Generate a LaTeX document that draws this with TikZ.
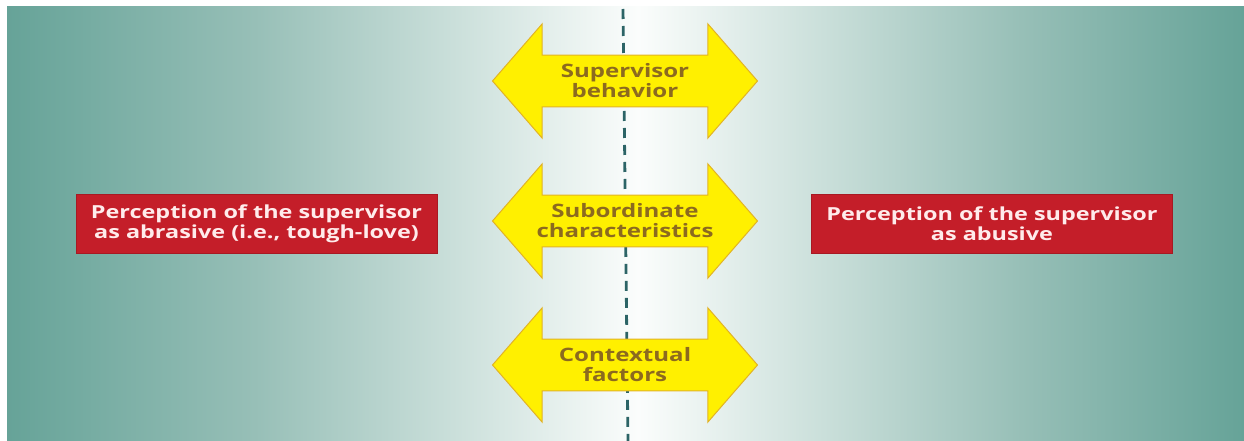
\documentclass[tikz,border=0pt]{standalone}
\usepackage{fontspec}
\setmainfont[FakeStretch=1.3]{Open Sans}
\usetikzlibrary{ shapes.arrows, % For the two-headed arrows
                 positioning,   % For easy node-relative placements
               }
\definecolor{tealedge}{HTML}{66A398}
\definecolor{tealmid}{HTML}{97BFB7}
\definecolor{tealpale}{HTML}{CADFDA}
\definecolor{centrewhite}{HTML}{FBFDFC}
\definecolor{arrowfill}{HTML}{FFF000}
\definecolor{arrowline}{HTML}{E2B325}
\definecolor{arrowtext}{HTML}{8C6A1F}
\definecolor{boxred}{HTML}{C41E29}
\definecolor{dashteal}{HTML}{2C6466}
\pgfdeclarehorizontalshading{backdrop}{100bp}{color(0bp)=(tealedge); color(25bp)=(tealedge);
  color(35bp)=(tealmid); color(43bp)=(tealpale); color(50.5bp)=(centrewhite);
  color(58bp)=(tealpale); color(66bp)=(tealmid); color(75bp)=(tealedge); color(100bp)=(tealedge)}
\tikzstyle{factor} = [double arrow, draw=arrowline, fill=arrowfill, line width=1pt,
  text=arrowtext, align=center, font=\bfseries\fontsize{18.5}{20}\selectfont,
  minimum height=265pt, minimum width=114pt, inner sep=5pt,
  double arrow head extend=27pt, double arrow tip angle=98]
\tikzstyle{view} = [rectangle, fill=boxred, draw=boxred!85!black, text=white!92!red, align=center,
  font=\bfseries\fontsize{18}{20}\selectfont, minimum width=361pt, minimum height=59pt]
\tikzstyle{divide} = [draw=dashteal, line width=2.8pt, dash pattern=on 10pt off 7pt]

\begin{document}
\begin{tikzpicture}[x=1pt, y=-1pt]
  \useasboundingbox (0,0) rectangle (1244,441);
  \shade[shading=backdrop] (7,7) rectangle (1244,441);

  \coordinate (top) at (623,9);
  \coordinate (bottom) at (628,441);
  \draw[divide] (top) -- (bottom);

  \node (behavior) [factor] at (625,81) {Supervisor\\behavior};
  \node (traits) [factor] at (625,221) {Subordinate\\characteristics};
  \node (context) [factor] at (625,365) {Contextual\\factors};

  \node (abrasive) [view] at (256.5,223.5) {Perception of the supervisor\\as abrasive (i.e., tough-love)};
  \node (abusive) [view] at (992,223.5) {Perception of the supervisor\\as abusive};
\end{tikzpicture}
\end{document}
